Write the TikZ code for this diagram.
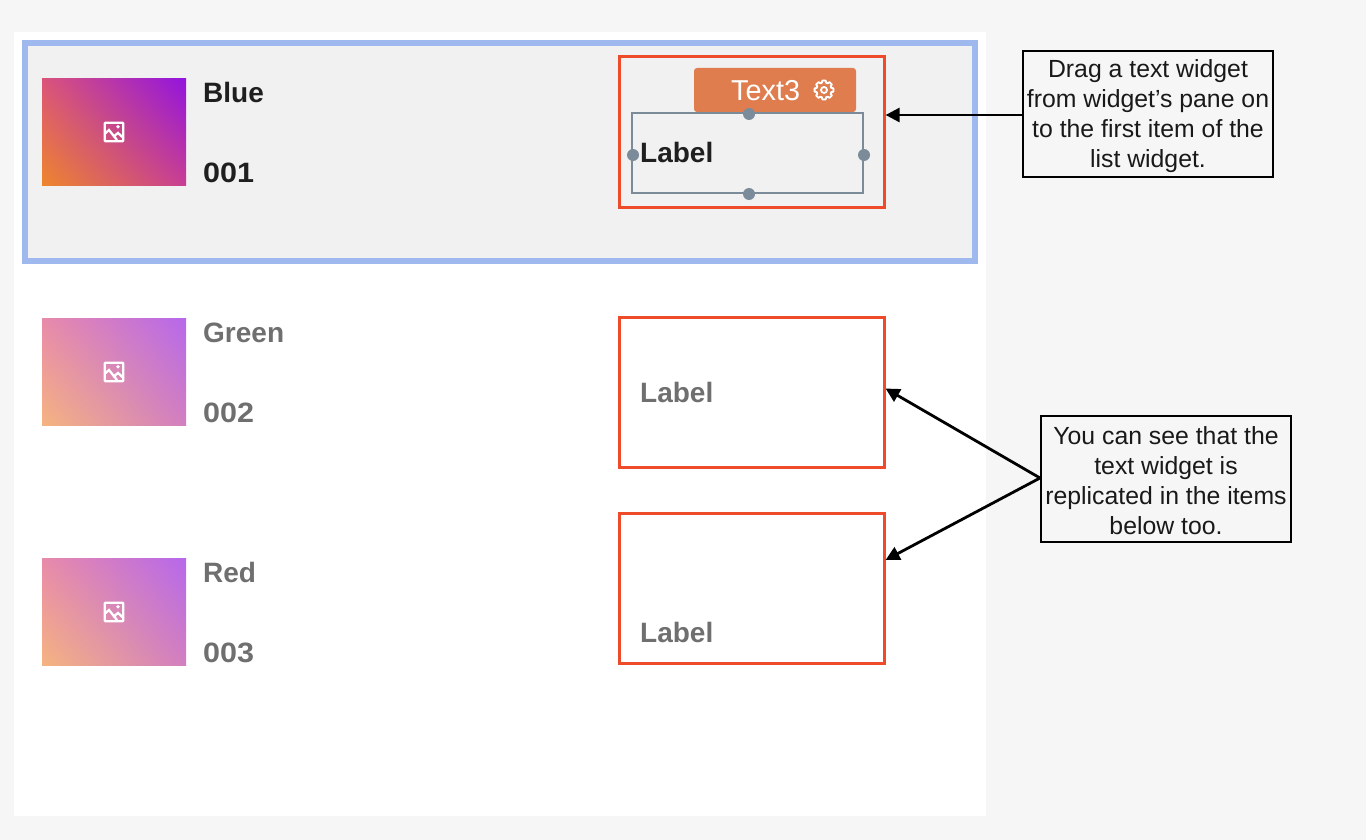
\documentclass[tikz,border=0pt]{standalone}
\usepackage{fontspec}
\usetikzlibrary{arrows.meta,shadings}
\setmainfont{Liberation Sans}
\definecolor{pagebg}{HTML}{F6F6F6}
\definecolor{selbg}{HTML}{F1F1F1}
\definecolor{selframe}{HTML}{9FB8EE}
\definecolor{redframe}{HTML}{EE4B2B}
\definecolor{tagorange}{HTML}{DF7D4E}
\definecolor{handlegrey}{HTML}{7C8B99}
\definecolor{darktext}{HTML}{1F1F1F}
\definecolor{greytext}{HTML}{6F6F6F}
\definecolor{aLL}{RGB}{238,134,44}
\definecolor{aUR}{RGB}{146,20,222}
\definecolor{aUL}{RGB}{218,84,122}
\definecolor{aLR}{RGB}{200,62,148}
\definecolor{bLL}{RGB}{245,180,128}
\definecolor{bUR}{RGB}{182,104,235}
\definecolor{bUL}{RGB}{232,138,170}
\definecolor{bLR}{RGB}{210,126,192}
\tikzset{
  x=1pt,y=-1pt,
  redbox/.style={draw=redframe,line width=3pt,inner sep=0pt,outer sep=0pt,minimum width=265pt,minimum height=150pt,anchor=north west},
  callout/.style={draw=black,line width=2.9pt,inner sep=0pt,outer sep=0pt,minimum width=250pt,minimum height=126pt,align=center,anchor=north west,font=\fontsize{24.8}{30}\selectfont,text=black!90},
  itemtext/.style={anchor=base west,inner sep=0pt,font=\bfseries\fontsize{28}{30}\selectfont},
  digits/.style={itemtext,xscale=1.09},
  handle/.style={circle,fill=handlegrey,inner sep=0pt,minimum size=12pt},
  pointer/.style={draw=black,line width=2.8pt,-{Triangle[length=14pt,width=14pt]}},
  thumbA/.style={lower left=aLL,upper right=aUR,upper left=aUL,lower right=aLR},
  thumbB/.style={lower left=bLL,upper right=bUR,upper left=bUL,lower right=bLR},
  photo/.pic={
    \draw[white,line width=2.3pt,rounded corners=0.6pt] (-9.2,-9.2) rectangle (9.2,9.2);
    \draw[white,line width=2.3pt,line join=miter] (-9.5,2) -- (-5,-2) -- (3,8) (-1,5) -- (4,1) -- (9.5,6);
    \fill[white] (4,-5.2) circle (1.9);
  },
}
\begin{document}
\begin{tikzpicture}
\useasboundingbox (0,0) rectangle (1366,840);
\fill[pagebg] (0,0) rectangle (1366,840);
\fill[white] (14,32) rectangle (986,816);
\fill[selframe] (22,40) rectangle (978,264);
\fill[selbg] (28,46) rectangle (972,258);

% thumbnails
\shade[thumbA] (42,186) rectangle (186,78.6);
\shade[thumbB] (42,425.6) rectangle (186,318);
\shade[thumbB] (42,665.6) rectangle (186,558);
\pic at (114,132) {photo};
\pic at (114,372) {photo};
\pic at (114,612) {photo};

% item texts
\node[itemtext,text=darktext] (t1a) at (203,102.6) {Blue};
\node[digits,text=darktext] (t1b) at (203,182.6) {001};
\node[itemtext,text=greytext] (t2a) at (203,342.6) {Green};
\node[digits,text=greytext] (t2b) at (203,422.6) {002};
\node[itemtext,text=greytext] (t3a) at (203,582.6) {Red};
\node[digits,text=greytext] (t3b) at (203,662.6) {003};

% red frames
\node[redbox] (r1) at (619,57) {};
\node[redbox] (r2) at (619,317) {};
\node[redbox] (r3) at (619,513) {};

% widget toolbar and selection
\fill[tagorange,rounded corners=3pt] (694,68) rectangle (856,112);
\node[anchor=base west,inner sep=0pt,text=white,font=\fontsize{28.8}{30}\selectfont] (tag) at (731,101) {Text3};
\begin{scope}[shift={(824,90)}]
  \draw[white,line width=1.9pt,line join=round] (-10:9.6)
    \foreach \a in {0,45,...,315} { -- (\a-10:9.6) -- (\a+10:9.6) -- (\a+16:7.6) -- (\a+29:7.6) } -- cycle;
  \draw[white,line width=1.8pt] (0,0) circle (3);
\end{scope}
\draw[handlegrey,line width=1.8pt] (632,113) rectangle (863,193);
\node[handle] (h1) at (749,114) {};
\node[handle] (h2) at (633,155) {};
\node[handle] (h3) at (864,155) {};
\node[handle] (h4) at (749,194) {};

\node[itemtext,text=darktext] (l1) at (640,162.6) {Label};
\node[itemtext,text=greytext] (l2) at (640,402.6) {Label};
\node[itemtext,text=greytext] (l3) at (640,642.6) {Label};

% callouts
\node[callout] (c1) at (1023,51) {\rule{0pt}{22pt}Drag a text widget\\from widget’s pane on\\to the first item of the\\list widget.};
\node[callout] (c2) at (1041,416) {\rule{0pt}{22pt}You can see that the\\text widget is\\replicated in the items\\below too.};

\coordinate (p1) at (885.6,115);
\coordinate (c1w) at (1022,115);
\coordinate (p2) at (885.6,388.5);
\coordinate (p3) at (885.6,560);
\coordinate (c2w) at (1040,478);
\draw[pointer] (c1w) -- (p1);
\draw[pointer] (c2w) -- (p2);
\draw[pointer] (c2w) -- (p3);
\end{tikzpicture}
\end{document}
